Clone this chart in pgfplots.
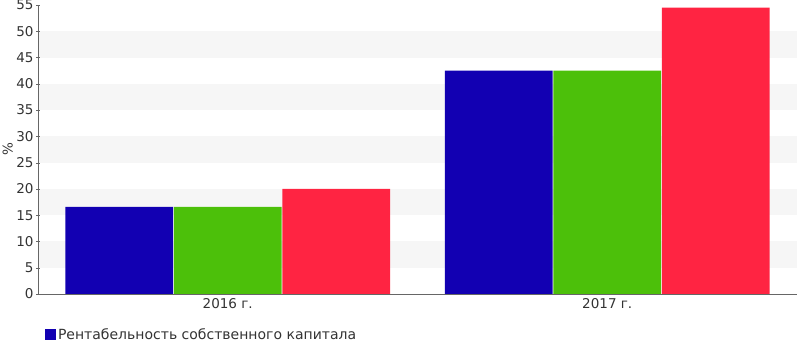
\documentclass[border=0pt]{standalone}
\usepackage{pgfplots}
\pgfplotsset{compat=1.18}
\usepackage{fontspec}
\setmainfont{DejaVu Sans}
\definecolor{cblue}{HTML}{1200B2}
\definecolor{cgreen}{HTML}{4CC00A}
\definecolor{cred}{HTML}{FF2442}
\definecolor{band}{HTML}{F6F6F6}
\definecolor{txt}{HTML}{333333}
\begin{document}
\begin{tikzpicture}
\pgfplotsset{set layers}
\begin{axis}[
  at={(38pt,50pt)}, anchor=south west,
  scale only axis, width=759pt, height=289pt,
  xmin=-0.5, xmax=1.5, ymin=0, ymax=55,
  ytick={0,5,...,55},
  xtick={0,1}, xticklabels={2016 г., 2017 г.},
  axis x line=bottom, axis y line=left,
  axis line style={draw=gray!80!black, -},
  x axis line style={-}, y axis line style={-},
  major tick length=4pt,
  xtick style={draw=none},
  ytick style={draw=gray!80!black},
  tick label style={font=\fontsize{13.5}{15}\selectfont, text=txt},
  yticklabel style={xshift=1pt},
  xticklabel style={yshift=1pt},
  /pgf/number format/assume math mode=true,
  ylabel={\%}, ylabel style={font=\fontsize{13.5}{15}\selectfont, text=txt, at={(axis description cs:-0.04,0.5)}, anchor=center},
  legend style={at={(0.009,-0.14)}, anchor=west, draw=none, fill=none, inner sep=0pt, font=\fontsize{14}{16}\selectfont, text=txt, legend cell align=left},
  legend image code/.code={\fill[#1] (0pt,-5.5pt) rectangle (11pt,5.5pt);},
  clip=false,
]
\begin{pgfonlayer}{axis background}
\fill[band] (axis cs:-0.5,5) rectangle (axis cs:1.5,10);
\fill[band] (axis cs:-0.5,15) rectangle (axis cs:1.5,20);
\fill[band] (axis cs:-0.5,25) rectangle (axis cs:1.5,30);
\fill[band] (axis cs:-0.5,35) rectangle (axis cs:1.5,40);
\fill[band] (axis cs:-0.5,45) rectangle (axis cs:1.5,50);
\end{pgfonlayer}
\addplot[ybar, bar width=0.284, bar shift=-0.286, fill=cblue, draw=none] coordinates {(0,16.6) (1,42.5)};
\addlegendentry{Рентабельность собственного капитала}
\addplot[ybar, bar width=0.284, bar shift=0, fill=cgreen, draw=none, forget plot] coordinates {(0,16.6) (1,42.5)};
\addplot[ybar, bar width=0.284, bar shift=0.286, fill=cred, draw=none, forget plot] coordinates {(0,20.0) (1,54.5)};
\end{axis}
\pgfresetboundingbox
\path[use as bounding box] (0,0) rectangle (797pt,344pt);
\end{tikzpicture}
\end{document}
